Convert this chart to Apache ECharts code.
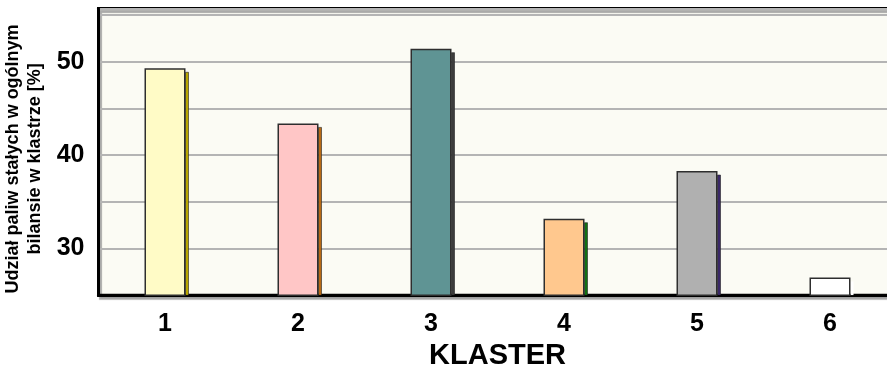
<!DOCTYPE html>
<html>
<head>
<meta charset="utf-8">
<script src="https://cdn.jsdelivr.net/npm/echarts@6/dist/echarts.min.js"></script>
<style>
  html, body { margin: 0; padding: 0; background: #ffffff; }
  #chart { width: 887px; height: 369px; }
</style>
</head>
<body>
<div id="chart"></div>
<script>
// Share of solid fuels in each cluster's overall balance
const categories = ['1', '2', '3', '4', '5', '6'];
const shares = [49.3, 43.4, 51.4, 33.2, 38.3, 26.9];
const barColors = ['#fffbc6', '#ffc6c6', '#5f9494', '#ffc88e', '#b0b0b0', '#ffffff'];
const sideColors = ['#b8a600', '#b86a14', '#3c3c3c', '#127012', '#3a2868', '#ffffff'];
const yTickLabels = ['30', '40', '50'];

const FONT = '"Liberation Sans", Arial, sans-serif';
const AXIS_MIN = 25;

const chart = echarts.init(document.getElementById('chart'), null, { renderer: 'canvas' });

chart.setOption({
  animation: false,
  backgroundColor: '#ffffff',
  grid: {
    left: 98.5,
    top: 8.5,
    right: -9.5,
    bottom: 73.7,
    containLabel: false,
    outerBoundsMode: 'none',
    show: true,
    backgroundColor: '#fbfbf4',
    borderColor: '#000000',
    borderWidth: 3,
    shadowColor: 'rgba(150,150,150,0.8)',
    shadowBlur: 1,
    shadowOffsetX: 2,
    shadowOffsetY: 3
  },
  xAxis: {
    type: 'category',
    data: categories,
    name: 'KLASTER',
    nameLocation: 'middle',
    nameGap: 42,
    nameTextStyle: { fontFamily: FONT, fontWeight: 'bold', fontSize: 29, color: '#000' },
    axisLine: { show: true, lineStyle: { color: '#000', width: 3 } },
    axisTick: { show: false },
    axisLabel: { fontFamily: FONT, fontWeight: 'bold', fontSize: 25, color: '#000', margin: 16 }
  },
  yAxis: {
    type: 'value',
    min: AXIS_MIN,
    max: 55.7,
    interval: 5,
    name: 'Udział paliw stałych w ogólnym\nbilansie w klastrze [%]',
    nameLocation: 'middle',
    nameGap: 48,
    nameTextStyle: {
      fontFamily: FONT, fontWeight: 'bold', fontSize: 18, lineHeight: 22,
      color: '#000', align: 'center', padding: [0, 14, 0, 0]
    },
    axisLine: { show: true, lineStyle: { color: '#000', width: 3 } },
    axisTick: { show: false },
    axisLabel: {
      fontFamily: FONT, fontWeight: 'bold', fontSize: 25, color: '#000', margin: 14,
      formatter: v => (yTickLabels.includes(String(v)) ? String(v) : '')
    },
    splitLine: { show: true, lineStyle: { color: '#b4b4b4', width: 2 } }
  },
  series: [
    {
      // darker side face of each bar, offset to the right and down
      type: 'custom',
      z: 1,
      clip: true,
      data: shares.map((v, i) => [i, v]),
      renderItem: (params, api) => {
        const i = api.value(0);
        const top = api.coord([i, api.value(1)]);
        const base = api.coord([i, AXIS_MIN]);
        const half = 20.5;
        return {
          type: 'rect',
          shape: { x: top[0] + half, y: top[1] + 4, width: 3, height: base[1] - top[1] - 4 },
          style: { fill: sideColors[i], stroke: i === 5 ? 'transparent' : '#222', lineWidth: 0.6 }
        };
      }
    },
    {
      type: 'bar',
      z: 2,
      barWidth: 41,
      data: shares.map((v, i) => ({
        value: v,
        itemStyle: { color: barColors[i], borderColor: '#2e2e2e', borderWidth: 1.5 }
      }))
    }
  ]
});
</script>
</body>
</html>
